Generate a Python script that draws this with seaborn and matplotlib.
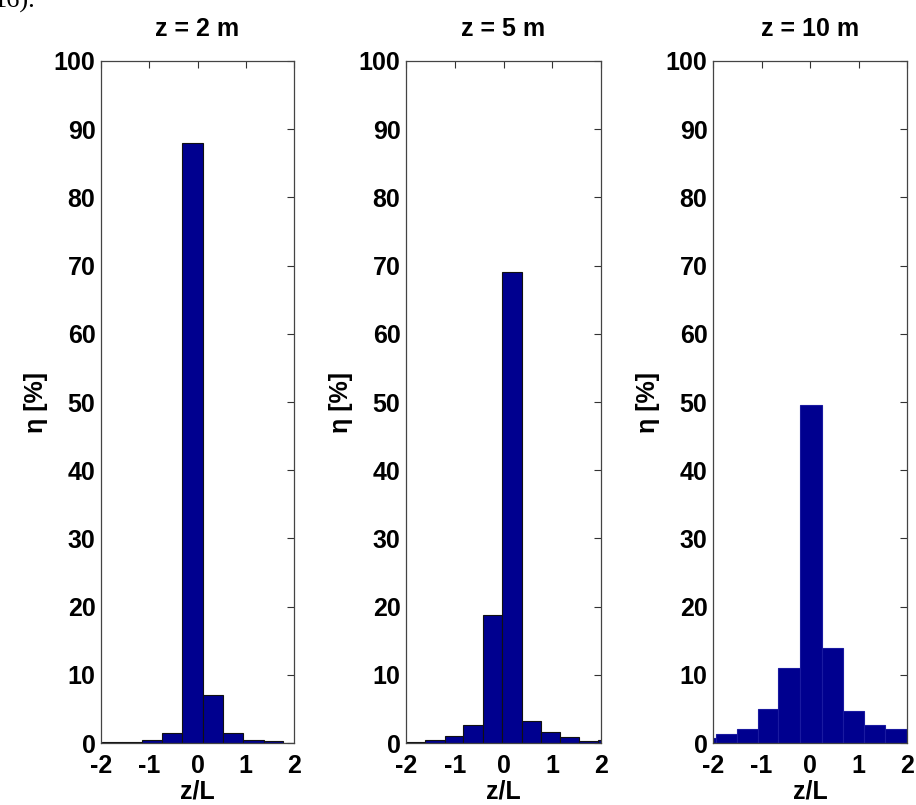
import numpy as np
import matplotlib
matplotlib.use('Agg')
import matplotlib.pyplot as plt
import seaborn as sns

# bin edges and heights (percent)
edges_2m = [-1.98, -1.56, -1.14, -0.73, -0.32, 0.11, 0.53, 0.94, 1.37, 1.78, 2.20]
eta_2m = [0.08, 0.08, 0.38, 1.5, 88.0, 7.1, 1.45, 0.45, 0.22, 0.05]

edges_5m = [-2.00, -1.61, -1.21, -0.83, -0.43, -0.04, 0.37, 0.76, 1.15, 1.55, 1.94, 2.33]
eta_5m = [0.1, 0.4, 1.05, 2.7, 18.7, 69.0, 3.2, 1.65, 0.9, 0.25, 0.4]

edges_10m = [-2.37, -1.93, -1.51, -1.07, -0.65, -0.21, 0.24, 0.68, 1.12, 1.55, 1.99]
eta_10m = [0.7, 1.35, 2.0, 4.95, 11.0, 49.5, 14.0, 4.7, 2.6, 2.0]

titles = ['z = 2 m', 'z = 5 m', 'z = 10 m']
xticks = [-2, -1, 0, 1, 2]
yticks = list(range(0, 101, 10))

sns.set_style('white')
plt.rcParams['font.family'] = ['Liberation Sans', 'DejaVu Sans']
plt.rcParams['axes.unicode_minus'] = False
plt.rcParams['text.color'] = 'black'
plt.rcParams['axes.labelcolor'] = 'black'
plt.rcParams['xtick.color'] = 'black'
plt.rcParams['ytick.color'] = 'black'

W, H = 916, 805
fig = plt.figure(figsize=(W / 100, H / 100), dpi=100)

# axes boxes in pixels: left, right
boxes = [(101, 294), (406, 601), (713, 907)]
top, bottom = 61, 743

data = [(edges_2m, eta_2m, '#111111'), (edges_5m, eta_5m, '#111111'), (edges_10m, eta_10m, '#1a1aa0')]

fs = 18
for (l, r), (edges, eta, ec), title in zip(boxes, data, titles):
    ax = fig.add_axes([l / W, 1 - bottom / H, (r - l) / W, (bottom - top) / H])
    centers = [(a + b) / 2 for a, b in zip(edges[:-1], edges[1:])]
    sns.histplot(x=centers, weights=eta, bins=edges, ax=ax, color='#00008F',
                 edgecolor=ec, linewidth=0.8, alpha=1)
    ax.set_xlim(-2, 2)
    ax.set_ylim(0, 100)
    ax.set_xticks(xticks)
    ax.set_yticks(yticks)
    ax.tick_params(direction='in', length=5, width=0.8, top=True, right=True,
                   labelsize=fs, color='#333333')
    ax.tick_params(axis='x', pad=8)
    ax.tick_params(axis='y', pad=4)
    for lab in ax.get_xticklabels() + ax.get_yticklabels():
        lab.set_fontweight('bold')
    for sp in ax.spines.values():
        sp.set_visible(True)
        sp.set_linewidth(0.9)
        sp.set_color('#444444')
    ax.set_title(title, fontsize=fs, fontweight='bold', pad=18)
    ax.set_xlabel('z/L', fontsize=fs, fontweight='bold', labelpad=1)
    ax.set_ylabel('η [%]', fontsize=fs, fontweight='bold', labelpad=4)

# fragment of the surrounding document text, cut at the top edge
fig.text(-6 / W, 1 - 8 / H, '16).', fontsize=19, family='Liberation Serif', va='baseline')

fig.savefig('out.png', dpi=100)
